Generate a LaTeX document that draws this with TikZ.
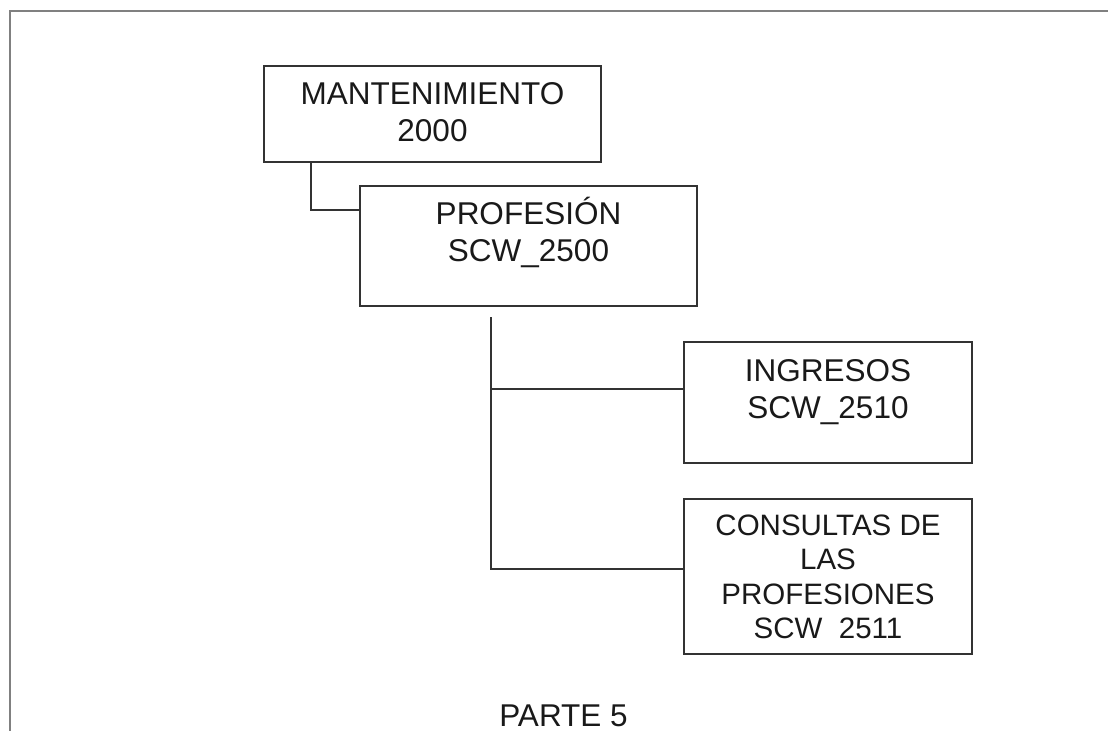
\documentclass[tikz,border=0pt]{standalone}
\usepackage{fontspec}
\setmainfont{Liberation Sans}
\usetikzlibrary{positioning}
\definecolor{boxline}{gray}{0.2}
\definecolor{frameline}{gray}{0.5}
\newcommand{\firstline}{\rule{0pt}{30pt}}

\begin{document}
\begin{tikzpicture}[x=1pt, y=-1pt,
		box/.style={draw=boxline, line width=1.6pt, inner sep=0pt},
		boxtext/.style={align=center, inner sep=0pt, text=black!90, font=\fontsize{31.5}{37.5}\selectfont},
		link/.style={draw=boxline, line width=1.6pt}]
		\useasboundingbox (0,0) rectangle (1108,731);
		% frame
		\draw[frameline, line width=1.8pt] (1108,11) -- (10,11) -- (10,731);
		
		% MANTENIMIENTO
		\node[box, minimum width=337pt, minimum height=96pt] (mant) at (432.5,114) {};
		\node[boxtext, below=9pt of mant.north] (manttext) {\firstline MANTENIMIENTO\\2000};
		
		% PROFESION
		\node[box, minimum width=337pt, minimum height=120pt] (prof) at (528.5,246) {};
		\node[boxtext, below=9pt of prof.north] (proftext) {\firstline PROFESIÓN\\SCW\_2500};
		\draw[link] ([xshift=48pt]mant.south west) |- ([yshift=36pt]prof.west);
		
		% INGRESOS
		\node[box, minimum width=288pt, minimum height=121pt] (ingresos) at (828,402.5) {};
		\node[boxtext, below=10pt of ingresos.north] (ingresostext) {\firstline INGRESOS\\SCW\_2510};
		
		% CONSULTAS
		\node[box, minimum width=288pt, minimum height=155pt] (consultas) at (828,576.5) {};
		\node[boxtext, font=\fontsize{29.5}{34.3}\selectfont, below=7pt of consultas.north] (consultastext) {\firstline CONSULTAS DE\\LAS\\PROFESIONES\\SCW~~2511};
		
		% spine to the two children
		\coordinate (spine) at (491,317);
		\coordinate (ingresosjoin) at ([yshift=13.5pt]ingresos.west);
		\draw[link] (spine) |- ([yshift=7.5pt]consultas.west);
		\draw[link] (spine |- ingresosjoin) -- (ingresosjoin);
		
		\node[boxtext, anchor=base] (parte) at (563.5,726) {PARTE 5};
\end{tikzpicture}
\end{document}
